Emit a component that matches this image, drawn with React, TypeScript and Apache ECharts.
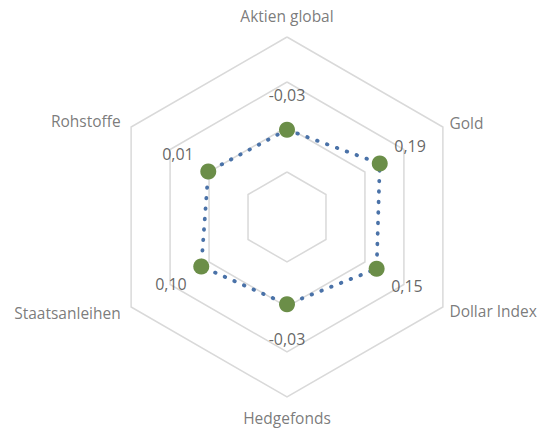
import React, { useEffect, useRef } from "react";
import * as echarts from "echarts";

// Data (clockwise from the top, as in the reference)
const categories: string[] = [
  "Aktien global",
  "Gold",
  "Dollar Index",
  "Hedgefonds",
  "Staatsanleihen",
  "Rohstoffe",
];
const values: number[] = [-0.03, 0.19, 0.15, -0.03, 0.1, 0.01];
const axisMin = -1;
const axisMax = 1;

const fmt = (v: number) => v.toFixed(2).replace(".", ",");

export default function App() {
  const ref = useRef<HTMLDivElement>(null);

  useEffect(() => {
    if (!ref.current) return;
    const chart = echarts.init(ref.current, undefined, { renderer: "svg" });

    const n = categories.length;
    const center = [287, 217];
    const R = 180;
    // ECharts radar places indicators counter-clockwise; reorder to match clockwise layout
    const order = [0, ...Array.from({ length: n - 1 }, (_, k) => n - 1 - k)];
    const radarIndicators = order.map((i) => ({
      name: categories[i],
      min: axisMin,
      max: axisMax,
    }));
    const radarValues = order.map((i) => values[i]);

    const angleDeg = (i: number) => (i * 360) / n;
    const unit = (i: number) => {
      const a = (angleDeg(i) * Math.PI) / 180;
      return [Math.sin(a), -Math.cos(a)];
    };

    const valueLabelData = values.map((v, i) => {
      const u = unit(i);
      const d = 35;
      return {
        value: [v, angleDeg(i)],
        label: {
          offset: [u[0] * d, u[1] * d],
        },
      };
    });

    const nameLabelData = categories.map((c, i) => {
      const u = unit(i);
      const side = Math.abs(u[0]) > 0.1;
      const right = u[0] > 0;
      const d = side ? (right ? 7.5 : 12) : 21;
      return {
        value: [axisMax, angleDeg(i)],
        name: c,
        label: {
          align: side ? (right ? "left" : "right") : "center",
          offset: [u[0] * d, u[1] * d],
        },
      };
    });

    chart.setOption({
      animation: false,
      backgroundColor: "#ffffff",
      radar: {
        center,
        radius: R,
        startAngle: 90,
        splitNumber: 4,
        shape: "polygon",
        indicator: radarIndicators,
        axisName: { show: false },
        axisLine: { show: false },
        axisTick: { show: false },
        axisLabel: { show: false },
        splitArea: { show: false },
        splitLine: { lineStyle: { color: "#d9d9d9", width: 1.5 } },
      },
      polar: { center, radius: R },
      angleAxis: {
        type: "value",
        min: 0,
        max: 360,
        startAngle: 90,
        clockwise: true,
        show: false,
        axisLine: { show: false },
        axisTick: { show: false },
        axisLabel: { show: false },
        splitLine: { show: false },
      },
      radiusAxis: {
        type: "value",
        min: axisMin,
        max: axisMax,
        show: false,
        axisLine: { show: false },
        axisTick: { show: false },
        axisLabel: { show: false },
        splitLine: { show: false },
      },
      series: [
        {
          type: "radar",
          symbol: "circle",
          symbolSize: 16,
          itemStyle: { color: "#6b8e48" },
          lineStyle: {
            color: "#4a72a8",
            width: 3.8,
            type: [0.5, 10],
            cap: "round",
          },
          data: [{ value: radarValues }],
          z: 3,
        },
        {
          type: "scatter",
          coordinateSystem: "polar",
          symbol: "circle",
          symbolSize: 1,
          itemStyle: { color: "rgba(0,0,0,0)" },
          silent: true,
          label: {
            show: true,
            position: "inside",
            color: "#404040",
            fontSize: 16,
            fontFamily: "Open Sans",
            align: "center",
            verticalAlign: "middle",
            formatter: (p: any) => fmt(p.value[0]),
          },
          data: valueLabelData,
          z: 4,
        },
        {
          type: "scatter",
          coordinateSystem: "polar",
          symbol: "circle",
          symbolSize: 1,
          itemStyle: { color: "rgba(0,0,0,0)" },
          silent: true,
          label: {
            show: true,
            position: "inside",
            color: "#595959",
            fontSize: 15.5,
            fontFamily: "Open Sans",
            align: "center",
            verticalAlign: "middle",
            formatter: (p: any) => p.name,
          },
          data: nameLabelData,
          z: 4,
        },
      ],
    });

    return () => chart.dispose();
  }, []);

  return (
    <div
      ref={ref}
      style={{ position: "fixed", left: 0, top: 0, width: 546, height: 428 }}
    />
  );
}
